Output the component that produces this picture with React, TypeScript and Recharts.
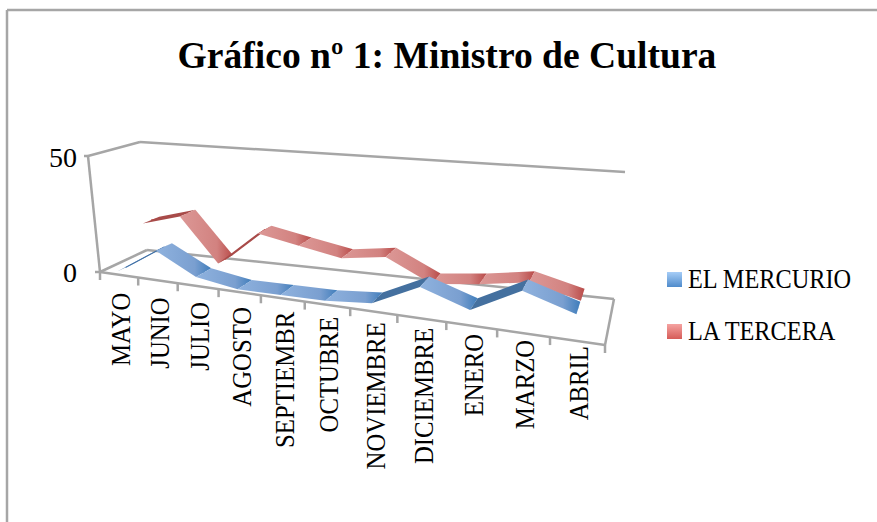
import React from 'react';
import { LineChart, Line, XAxis, YAxis, Legend, Customized } from 'recharts';

const months = ['MAYO', 'JUNIO', 'JULIO', 'AGOSTO', 'SEPTIEMBR', 'OCTUBRE', 'NOVIEMBRE', 'DICIEMBRE', 'ENERO', 'MARZO', 'ABRIL'];
const mercurio = [2, 13, 4, 1, 1, 1, 2.5, 12, 5, 16, 9];
const tercera = [24, 29, 11, 26, 23, 20, 23, 14, 16.5, 20, 15];
const yTicks = [0, 50];

const data = months.map((month, i) => ({
  pos: i + 0.5,
  month,
  mercurio: mercurio[i],
  tercera: tercera[i],
}));

// the picture is a 3D chart: the floor tilts and the depth lines run to a vanishing point
const VP = { x: 672, y: 4 };
const PLANE_SLOPE = 0.125;
const PLANE_X0 = 125;
const FRONT_SLOPE = 0.1446;
const LEFT = 100;
const RIGHT = 605;
const BASE_Y = 272;
const GREY = '#a6a6a6';
const FONT = '"Liberation Serif", serif';

function perspectiveScale(depth: number) {
  let dom = [0, 11];
  let rng = [LEFT, RIGHT];
  const s: any = (v: number) => {
    const t = (v - dom[0]) / (dom[1] - dom[0]);
    const f = t / (1 + 0.222 * (1 - t));
    const p = rng[0] + (rng[1] - rng[0]) * f;
    return p + depth * (VP.x - p);
  };
  s.domain = (d?: number[]) => {
    if (!d) return dom;
    dom = d.map(Number);
    return s;
  };
  s.range = (r?: number[]) => {
    if (!r) return rng;
    rng = r;
    return s;
  };
  s.copy = () => {
    const c = perspectiveScale(depth);
    c.domain(dom).range(rng);
    return c;
  };
  s.ticks = () => data.map((d) => d.pos);
  return s;
}

const labelScale = perspectiveScale(0);
const frontScale = perspectiveScale(0.012);
const backScale = perspectiveScale(0.058);
const boundaryScale = perspectiveScale(0);

const planeY = (x: number, y: number) => y + PLANE_SLOPE * (x - PLANE_X0);

// one ribbon per series, extruded towards the vanishing point between consecutive points
function ribbon(colors: { up: string; id: string }) {
  let prev: { x: number; y: number } | null = null;
  return (props: any) => {
    const { cx, cy, index } = props;
    const p = { x: cx, y: planeY(cx, cy) };
    const last = prev;
    prev = p;
    if (index === 0 || !last) return <g key={index} />;
    const depth = (q: { x: number; y: number }) => {
      const c = 0.03 + (0.012 * (q.x - LEFT)) / (RIGHT - LEFT);
      return { x: ((VP.x - q.x) * c) / 2, y: ((VP.y - q.y) * c) / 2 };
    };
    const a = depth(last);
    const b = depth(p);
    const pts = [
      [last.x - a.x, last.y - a.y],
      [p.x - b.x, p.y - b.y],
      [p.x + b.x, p.y + b.y],
      [last.x + a.x, last.y + a.y],
    ]
      .map((v) => v.join(','))
      .join(' ');
    const rising = p.y < last.y - 5;
    return <polygon key={index} points={pts} fill={rising ? colors.up : `url(#${colors.id})`} />;
  };
}

function Frame() {
  const seg = (x1: number, y1: number, x2: number, y2: number, key: string) => (
    <line key={key} x1={x1} y1={y1} x2={x2} y2={y2} stroke={GREY} strokeWidth={2.5} />
  );
  const boundaries = Array.from({ length: months.length + 1 }, (_, i) => boundaryScale(i));
  return (
    <g>
      <text x={447} y={68} textAnchor="middle" fontFamily={FONT} fontWeight="bold" fontSize={37.6} fill="#000">
        Gráfico nº 1: Ministro de Cultura
      </text>
      {seg(7, 10, 7, 522, 'border-left')}
      {seg(7, 10, 877, 10, 'border-top')}
      {seg(84, 156, 88, 156, 'y50')}
      {seg(88, 156, 100, 272, 'wall-left')}
      {seg(88, 156, 140, 142, 'wall-top-left')}
      {seg(140, 142, 625, 172, 'wall-top')}
      {seg(95, 272, 100, 272, 'y0')}
      {seg(100, 272, 147, 250, 'floor-left')}
      {seg(147, 250, 614, 299, 'floor-back')}
      {seg(614, 299, 605, 345, 'floor-right')}
      {seg(100, 272, 605, 345, 'floor-front')}
      {boundaries.map((x: number, i: number) => {
        const y = BASE_Y + FRONT_SLOPE * (x - LEFT);
        return seg(x, y, x, y + 8, `tick-${i}`);
      })}
    </g>
  );
}

function MonthTick(props: any) {
  const { x, payload } = props;
  const top = BASE_Y + FRONT_SLOPE * (x - LEFT) + 18 - (13 * (x - 119)) / 461;
  const label = months[Math.floor(payload.value)];
  return (
    <text
      transform={`translate(${x + 2} ${top}) rotate(-90) scale(0.9 1)`}
      textAnchor="end"
      dy="0.33em"
      fontFamily={FONT}
      fontSize={27.5}
      fill="#000"
    >
      {label}
    </text>
  );
}

function ValueTick(props: any) {
  const { y, payload } = props;
  return (
    <text x={77} y={y} dy="0.35em" textAnchor="end" fontFamily={FONT} fontSize={28} fill="#000">
      {payload.value}
    </text>
  );
}

const legendGradients: Record<string, string> = {
  'EL MERCURIO': 'linear-gradient(#a6cdf7, #4f8bcb)',
  'LA TERCERA': 'linear-gradient(#f5a3a1, #d65c58)',
};

function LegendBox(props: any) {
  return (
    <div style={{ fontFamily: FONT, fontSize: 27, color: '#000' }}>
      {props.payload.map((entry: any) => (
        <div key={entry.value} style={{ display: 'flex', alignItems: 'center', height: 52 }}>
          <span style={{ width: 15, height: 15, marginRight: 6, background: legendGradients[entry.value] }} />
          <span style={{ display: 'inline-block', transform: 'scaleX(0.9)', transformOrigin: 'left center', whiteSpace: 'nowrap' }}>
            {entry.value}
          </span>
        </div>
      ))}
    </div>
  );
}

export default function App() {
  const skew = `matrix(1, ${PLANE_SLOPE}, 0, 1, 0, ${-PLANE_SLOPE * PLANE_X0})`;
  return (
    <div style={{ position: 'absolute', left: 0, top: 0, width: 877, height: 522, background: '#fff' }}>
      <style>{`.recharts-line-curve { transform: ${skew}; }`}</style>
      <LineChart
        width={877}
        height={522}
        data={data}
        margin={{ top: 157, right: 877 - RIGHT, bottom: 522 - BASE_Y - 1, left: LEFT - 1 }}
      >
        <defs>
          <linearGradient id="blueRibbon" x1="0" y1="0" x2="1" y2="0">
            <stop offset="0" stopColor="#8fb2de" />
            <stop offset="0.7" stopColor="#7a9fd0" />
            <stop offset="1" stopColor="#3f7dbb" />
          </linearGradient>
          <linearGradient id="redRibbon" x1="0" y1="0" x2="1" y2="0">
            <stop offset="0" stopColor="#dc9896" />
            <stop offset="0.7" stopColor="#d28280" />
            <stop offset="1" stopColor="#b94b49" />
          </linearGradient>
        </defs>
        <Customized component={Frame} />
        <XAxis
          xAxisId="labels"
          dataKey="pos"
          type="number"
          domain={[0, 11]}
          scale={labelScale}
          ticks={data.map((d) => d.pos)}
          interval={0}
          height={1}
          axisLine={false}
          tickLine={false}
          tickSize={0}
          tick={<MonthTick />}
        />
        <XAxis xAxisId="front" dataKey="pos" type="number" domain={[0, 11]} scale={frontScale} hide />
        <XAxis xAxisId="back" dataKey="pos" type="number" domain={[0, 11]} scale={backScale} hide />
        <YAxis domain={[0, 50]} ticks={yTicks} width={1} axisLine={false} tickLine={false} tick={<ValueTick />} />
        <Legend
          layout="horizontal"
          align="center"
          verticalAlign="middle"
          wrapperStyle={{ left: 667, top: 253, width: 205, height: 104 }}
          content={<LegendBox />}
        />
        <Line
          xAxisId="back"
          dataKey="tercera"
          name="LA TERCERA"
          stroke="#c0504d"
          strokeWidth={1}
          dot={ribbon({ up: '#a84b49', id: 'redRibbon' })}
          activeDot={false}
          legendType="square"
          isAnimationActive={false}
        />
        <Line
          xAxisId="front"
          dataKey="mercurio"
          name="EL MERCURIO"
          stroke="#4f81bd"
          strokeWidth={1}
          dot={ribbon({ up: '#44709f', id: 'blueRibbon' })}
          activeDot={false}
          legendType="square"
          isAnimationActive={false}
        />
      </LineChart>
    </div>
  );
}
